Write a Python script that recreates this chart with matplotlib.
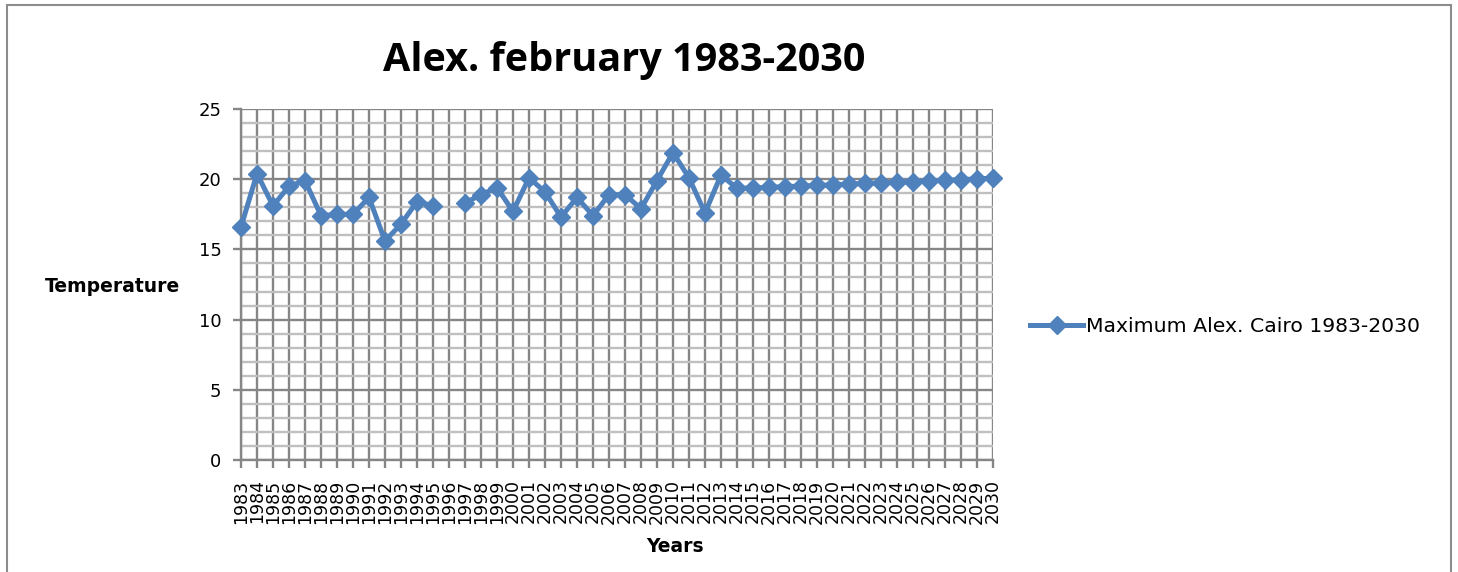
import numpy as np
import matplotlib
matplotlib.use("Agg")
import matplotlib.pyplot as plt
from matplotlib import font_manager
from matplotlib.lines import Line2D
from matplotlib.patches import Rectangle
from matplotlib.ticker import MultipleLocator

# --- data -------------------------------------------------------------
years = list(range(1983, 2031))
max_temp = [
    16.6, 20.4, 18.1, 19.5, 19.9, 17.4, 17.5, 17.5, 18.7, 15.6,
    16.8, 18.4, 18.1, np.nan, 18.3, 18.9, 19.4, 17.7, 20.1, 19.1,
    17.3, 18.7, 17.4, 18.9, 18.9, 17.9, 19.9, 21.9, 20.1, 17.6,
    20.3, 19.35, 19.38, 19.42, 19.47, 19.51, 19.56, 19.6, 19.65, 19.7,
    19.74, 19.78, 19.83, 19.88, 19.92, 19.97, 20.02, 20.08,
]
series_name = "Maximum Alex. Cairo 1983-2030"
title = "Alex. february 1983-2030"
x_label = "Years"
y_label = "Temperature"

# --- fonts ------------------------------------------------------------
installed = {f.name for f in font_manager.fontManager.ttflist}


def pick(*names):
    for n in names:
        if n in installed:
            return n
    return "DejaVu Sans"


narrow = pick("Liberation Sans Narrow", "DejaVu Sans Condensed", "Open Sans", "Liberation Sans")

blue = "#4F81BD"
grid_dark = "#868686"
grid_light = "#BFBFBF"

fig = plt.figure(figsize=(14.58, 5.72), dpi=100)
fig.patch.set_facecolor("white")

# chart frame
fig.add_artist(Rectangle((7 / 1458, -0.05), 1444 / 1458, 1 - 5 / 572 + 0.05,
                         transform=fig.transFigure, fill=False,
                         edgecolor="#8C8C8C", linewidth=1.5))

ax = fig.add_axes([241 / 1458, 1 - 460 / 572, 752 / 1458, 351 / 572])
x = np.arange(len(years))

ax.plot(x, max_temp, color=blue, linewidth=3.6, marker="D", markersize=9.5,
        markerfacecolor=blue, markeredgecolor=blue, zorder=3, clip_on=False)

ax.set_xlim(0, len(years) - 1)
ax.set_ylim(0, 25)

# y axis: major every 5, minor every 1
ax.yaxis.set_major_locator(MultipleLocator(5))
ax.yaxis.set_minor_locator(MultipleLocator(1))
ax.set_xticks(x)
ax.set_xticklabels([str(y) for y in years], rotation=90, fontsize=12.5,
                   family="DejaVu Sans")
for lab in ax.get_yticklabels():
    lab.set_fontsize(13)

ax.grid(axis="x", which="major", color=grid_dark, linewidth=1.7, zorder=1)
ax.grid(axis="y", which="major", color=grid_dark, linewidth=1.7, zorder=1)
ax.grid(axis="y", which="minor", color=grid_light, linewidth=1.7, zorder=0)
ax.set_axisbelow(True)

ax.tick_params(axis="y", which="major", length=6, width=1.7, color=grid_dark,
               labelsize=13, pad=8)
ax.tick_params(axis="y", which="minor", length=0)
ax.tick_params(axis="x", which="major", length=6, width=1.7, color=grid_dark,
               pad=8)

for side in ("top", "right"):
    ax.spines[side].set_visible(False)
for side in ("left", "bottom"):
    ax.spines[side].set_color(grid_dark)
    ax.spines[side].set_linewidth(1.7)

# titles and axis labels
fig.text(624 / 1458, 1 - 60 / 572, title, ha="center", va="center",
         fontsize=28.5, fontweight="bold", family=narrow)
fig.text(112 / 1458, 1 - 287 / 572, y_label, ha="center", va="center",
         fontsize=13.5, fontweight="bold", family="DejaVu Sans")
fig.text(675 / 1458, 1 - 547 / 572, x_label, ha="center", va="center",
         fontsize=13.5, fontweight="bold", family="DejaVu Sans")

# legend
handle = Line2D([], [], color=blue, linewidth=3.6, marker="D", markersize=9.5,
                markerfacecolor=blue, markeredgecolor=blue)
fig.legend([handle], [series_name], loc="center left",
           bbox_to_anchor=(1030 / 1458, 1 - 327 / 572), frameon=False,
           prop={"family": "DejaVu Sans", "size": 14.7}, handlelength=2.6,
           handletextpad=0.15, borderaxespad=0, borderpad=0)

fig.savefig("out.png", dpi=100, facecolor="white")
